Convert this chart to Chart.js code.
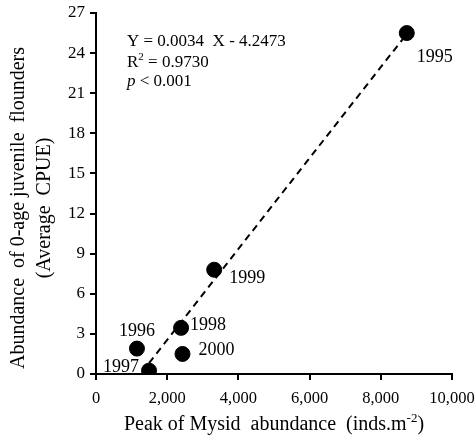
<!DOCTYPE html>
<html>
<head>
<meta charset="utf-8">
<script src="https://cdn.jsdelivr.net/npm/chart.js@4.4.1/dist/chart.umd.min.js"></script>
<style>
  html, body { margin: 0; padding: 0; background: #fff; }
  #wrap { width: 475px; height: 439px; }
</style>
</head>
<body>
<div id="wrap"><canvas id="c" width="475" height="439"></canvas></div>
<script>
// ---- data ----
const years = ['1995', '1996', '1997', '1998', '1999', '2000'];
const mysidPeak = [8730, 1150, 1490, 2390, 3320, 2430];      // inds.m-2
const flounderCPUE = [25.5, 1.9, 0.25, 3.45, 7.8, 1.5];        // average CPUE
const fitSlope = 0.0034;
const fitIntercept = -4.2473;
const fitXRange = [1490, 8730];
const xTicks = [0, 2000, 4000, 6000, 8000, 10000];
const yTicks = [0, 3, 6, 9, 12, 15, 18, 21, 24, 27];

// label placement (style, not data): dx, dy, align
const labelPlacement = {
  '1995': [10, 24, 'left'],
  '1996': [0, -17, 'center'],
  '1997': [-10, -3, 'right'],
  '1998': [9, -3, 'left'],
  '1999': [15, 9, 'left'],
  '2000': [16, -4, 'left']
};

const SERIF = '"Liberation Serif", "Times New Roman", serif';

const points = mysidPeak.map((x, i) => ({ x: x, y: flounderCPUE[i] }));
const fitLine = fitXRange.map(x => ({ x: x, y: fitSlope * x + fitIntercept }));

const overlay = {
  id: 'overlay',
  afterDraw(chart) {
    const ctx = chart.ctx;
    const xs = chart.scales.x, ys = chart.scales.y;
    const area = chart.chartArea;
    ctx.save();
    ctx.fillStyle = '#000';
    // point labels
    ctx.font = '18px ' + SERIF;
    ctx.textBaseline = 'middle';
    years.forEach((yr, i) => {
      const p = labelPlacement[yr];
      ctx.textAlign = p[2];
      ctx.fillText(yr, xs.getPixelForValue(mysidPeak[i]) + p[0], ys.getPixelForValue(flounderCPUE[i]) + p[1]);
    });
    // equation block
    const ex = area.left + 31;
    ctx.textAlign = 'left';
    ctx.font = '17px ' + SERIF;
    ctx.fillText('Y = ' + fitSlope.toFixed(4) + '  X - ' + Math.abs(fitIntercept).toFixed(4), ex, area.top + 29);
    let x = ex;
    const y2 = area.top + 50;
    ctx.fillText('R', x, y2); x += ctx.measureText('R').width;
    ctx.font = '11px ' + SERIF;
    ctx.fillText('2', x, y2 - 6); x += ctx.measureText('2').width;
    ctx.font = '17px ' + SERIF;
    ctx.fillText(' = 0.9730', x, y2);
    x = ex;
    const y3 = area.top + 69;
    ctx.font = 'italic 17px ' + SERIF;
    ctx.fillText('p', x, y3); x += ctx.measureText('p').width;
    ctx.font = '17px ' + SERIF;
    ctx.fillText(' < 0.001', x, y3);

    // x axis title with superscript
    ctx.font = '20px ' + SERIF;
    ctx.textBaseline = 'alphabetic';
    const part1 = 'Peak of Mysid  abundance  (inds.m';
    const sup = '-2';
    const part3 = ')';
    const w1 = ctx.measureText(part1).width;
    const w3 = ctx.measureText(part3).width;
    ctx.font = '13px ' + SERIF;
    const ws = ctx.measureText(sup).width;
    const total = w1 + ws + w3;
    let tx = 274 - total / 2;
    const ty = 430;
    ctx.font = '20px ' + SERIF;
    ctx.fillText(part1, tx, ty); tx += w1;
    ctx.font = '13px ' + SERIF;
    ctx.fillText(sup, tx, ty - 8); tx += ws;
    ctx.font = '20px ' + SERIF;
    ctx.fillText(part3, tx, ty);

    // y axis title (two lines, rotated)
    ctx.translate(0, 208);
    ctx.rotate(-Math.PI / 2);
    ctx.textAlign = 'center';
    ctx.textBaseline = 'middle';
    ctx.font = '20px ' + SERIF;
    ctx.fillText('Abundance  of 0-age juvenile  flounders', 0, 19);
    ctx.fillText('(Average  CPUE)', 0, 45);
    ctx.restore();
  }
};

new Chart(document.getElementById('c'), {
  type: 'scatter',
  data: {
    datasets: [
      {
        type: 'line',
        data: fitLine,
        borderColor: '#000',
        borderWidth: 2,
        borderDash: [7, 5],
        pointRadius: 0,
        fill: false
      },
      {
        data: points,
        backgroundColor: '#000',
        borderColor: '#000',
        pointRadius: 7.5,
        pointHoverRadius: 7.5
      }
    ]
  },
  options: {
    responsive: false,
    animation: false,
    devicePixelRatio: 1,
    layout: { padding: { left: 0, top: 13, right: 23, bottom: 0 } },
    plugins: { legend: { display: false }, tooltip: { enabled: false } },
    scales: {
      x: {
        type: 'linear',
        min: 0, max: 10000,
        afterBuildTicks: s => { s.ticks = xTicks.map(v => ({ value: v })); },
        afterFit: s => { s.height = 65; s.paddingLeft = 0; s.paddingRight = 0; },
        border: { display: true, color: '#000', width: 2 },
        grid: { drawOnChartArea: false, drawTicks: true, tickLength: 6, color: '#000', lineWidth: 2 },
        ticks: {
          color: '#000',
          padding: 9,
          maxRotation: 0,
          font: { family: SERIF, size: 16.5 },
          callback: v => v.toLocaleString('en-US')
        }
      },
      y: {
        type: 'linear',
        min: 0, max: 27,
        afterBuildTicks: s => { s.ticks = yTicks.map(v => ({ value: v })); },
        afterFit: s => { s.width = 96; s.paddingTop = 0; s.paddingBottom = 0; },
        border: { display: true, color: '#000', width: 2 },
        grid: { drawOnChartArea: false, drawTicks: true, tickLength: 6, color: '#000', lineWidth: 2 },
        ticks: {
          color: '#000',
          padding: 5,
          font: { family: SERIF, size: 17 }
        }
      }
    }
  },
  plugins: [overlay]
});
</script>
</body>
</html>
